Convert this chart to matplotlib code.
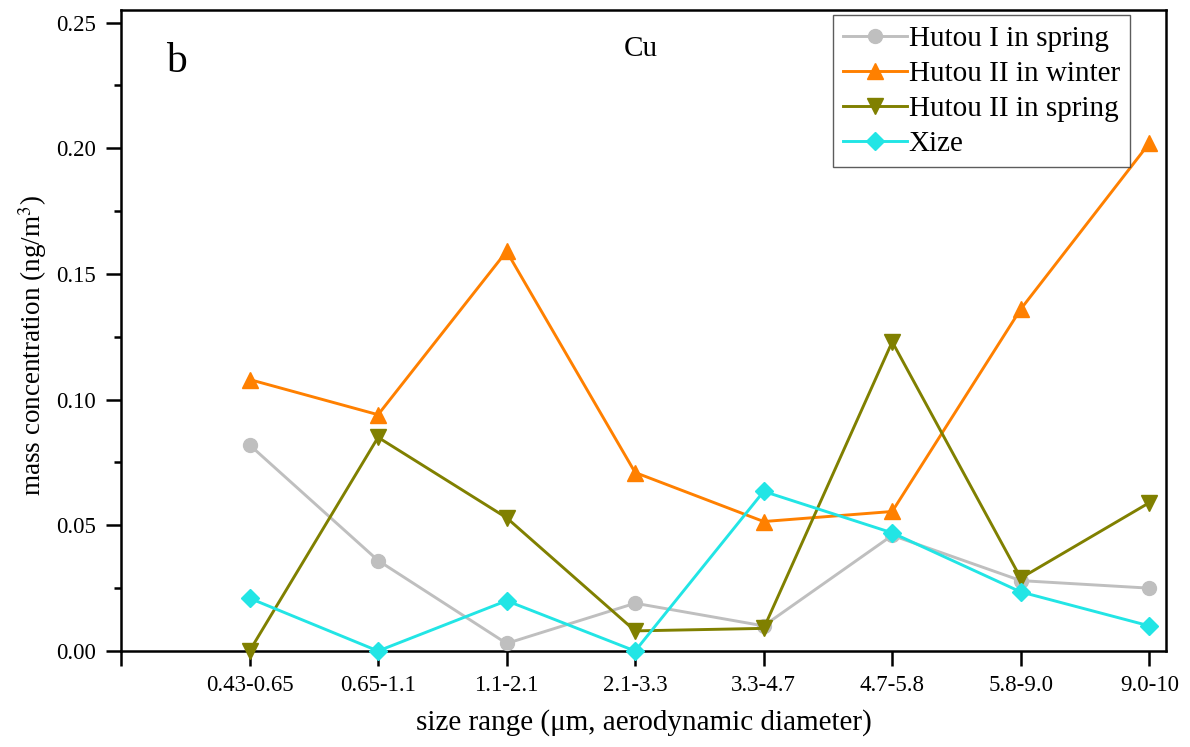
import matplotlib
matplotlib.use("Agg")
import matplotlib.pyplot as plt
from matplotlib.ticker import MultipleLocator

# Size bins and Cu concentration per site/season (ng/m3)
size_bins = ["0.43-0.65", "0.65-1.1", "1.1-2.1", "2.1-3.3",
             "3.3-4.7", "4.7-5.8", "5.8-9.0", "9.0-10"]
hutou1_spring = [0.082, 0.036, 0.003, 0.019, 0.010, 0.046, 0.028, 0.025]
hutou2_winter = [0.108, 0.094, 0.159, 0.071, 0.0515, 0.0555, 0.136, 0.202]
hutou2_spring = [0.0, 0.085, 0.053, 0.008, 0.009, 0.123, 0.029, 0.059]
xize = [0.021, 0.0, 0.020, 0.0, 0.0635, 0.047, 0.0235, 0.010]

plt.rcParams["font.family"] = ["Liberation Serif", "DejaVu Serif"]
plt.rcParams["mathtext.fontset"] = "stix"

fig = plt.figure(figsize=(11.9, 7.47), dpi=100)
ax = fig.add_axes([121 / 1190, 1 - 651 / 747, (1166 - 121) / 1190, (651 - 10) / 747])

x = list(range(len(size_bins)))
lw = 2.1
ax.plot(x, hutou1_spring, color="#bfbfbf", lw=lw, marker="o", ms=10,
        label="Hutou I in spring", clip_on=False, zorder=3)
ax.plot(x, hutou2_winter, color="#ff8000", lw=lw, marker="^", ms=12,
        label="Hutou II in winter", clip_on=False, zorder=3)
ax.plot(x, hutou2_spring, color="#808000", lw=lw, marker="v", ms=12,
        label="Hutou II in spring", clip_on=False, zorder=3)
ax.plot(x, xize, color="#22e5e5", lw=lw, marker="D", ms=9.5,
        label="Xize", clip_on=False, zorder=3)

ax.set_xlim(-1, 7.13)
ax.set_ylim(0, 0.255)
ax.set_xticks([-1] + x)
ax.set_xticklabels([""] + size_bins)
ax.yaxis.set_major_locator(MultipleLocator(0.05))
ax.yaxis.set_minor_locator(MultipleLocator(0.025))
ax.yaxis.set_major_formatter(plt.FuncFormatter(lambda v, p: f"{v:.2f}"))

for s in ax.spines.values():
    s.set_linewidth(1.8)
ax.tick_params(axis="both", which="major", direction="out", length=11, width=1.8,
               labelsize=16.5)
ax.tick_params(axis="x", which="major", pad=6)
ax.tick_params(axis="y", which="major", pad=7)
ax.tick_params(axis="y", which="minor", direction="out", length=5, width=1.8)

ax.set_xlabel("size range (\u03bcm, aerodynamic diameter)", fontsize=21, labelpad=10)
ax.set_ylabel("mass concentration (ng/m$^3$)", fontsize=19.5)
ax.yaxis.set_label_coords(-0.069, 0.477)

ax.text(0.043, 0.95, "b", transform=ax.transAxes, fontsize=30, va="top", ha="left")
ax.text(0.497, 0.96, "Cu", transform=ax.transAxes, fontsize=21, va="top", ha="center")

leg = ax.legend(loc="upper right", bbox_to_anchor=(0.9655, 0.992), fontsize=21,
                frameon=True, fancybox=False, edgecolor="#333333",
                handlelength=2.2, handletextpad=0.05, borderpad=0.35,
                labelspacing=0.3, borderaxespad=0)
leg.get_frame().set_linewidth(1.0)

fig.savefig("out.png", dpi=100)
